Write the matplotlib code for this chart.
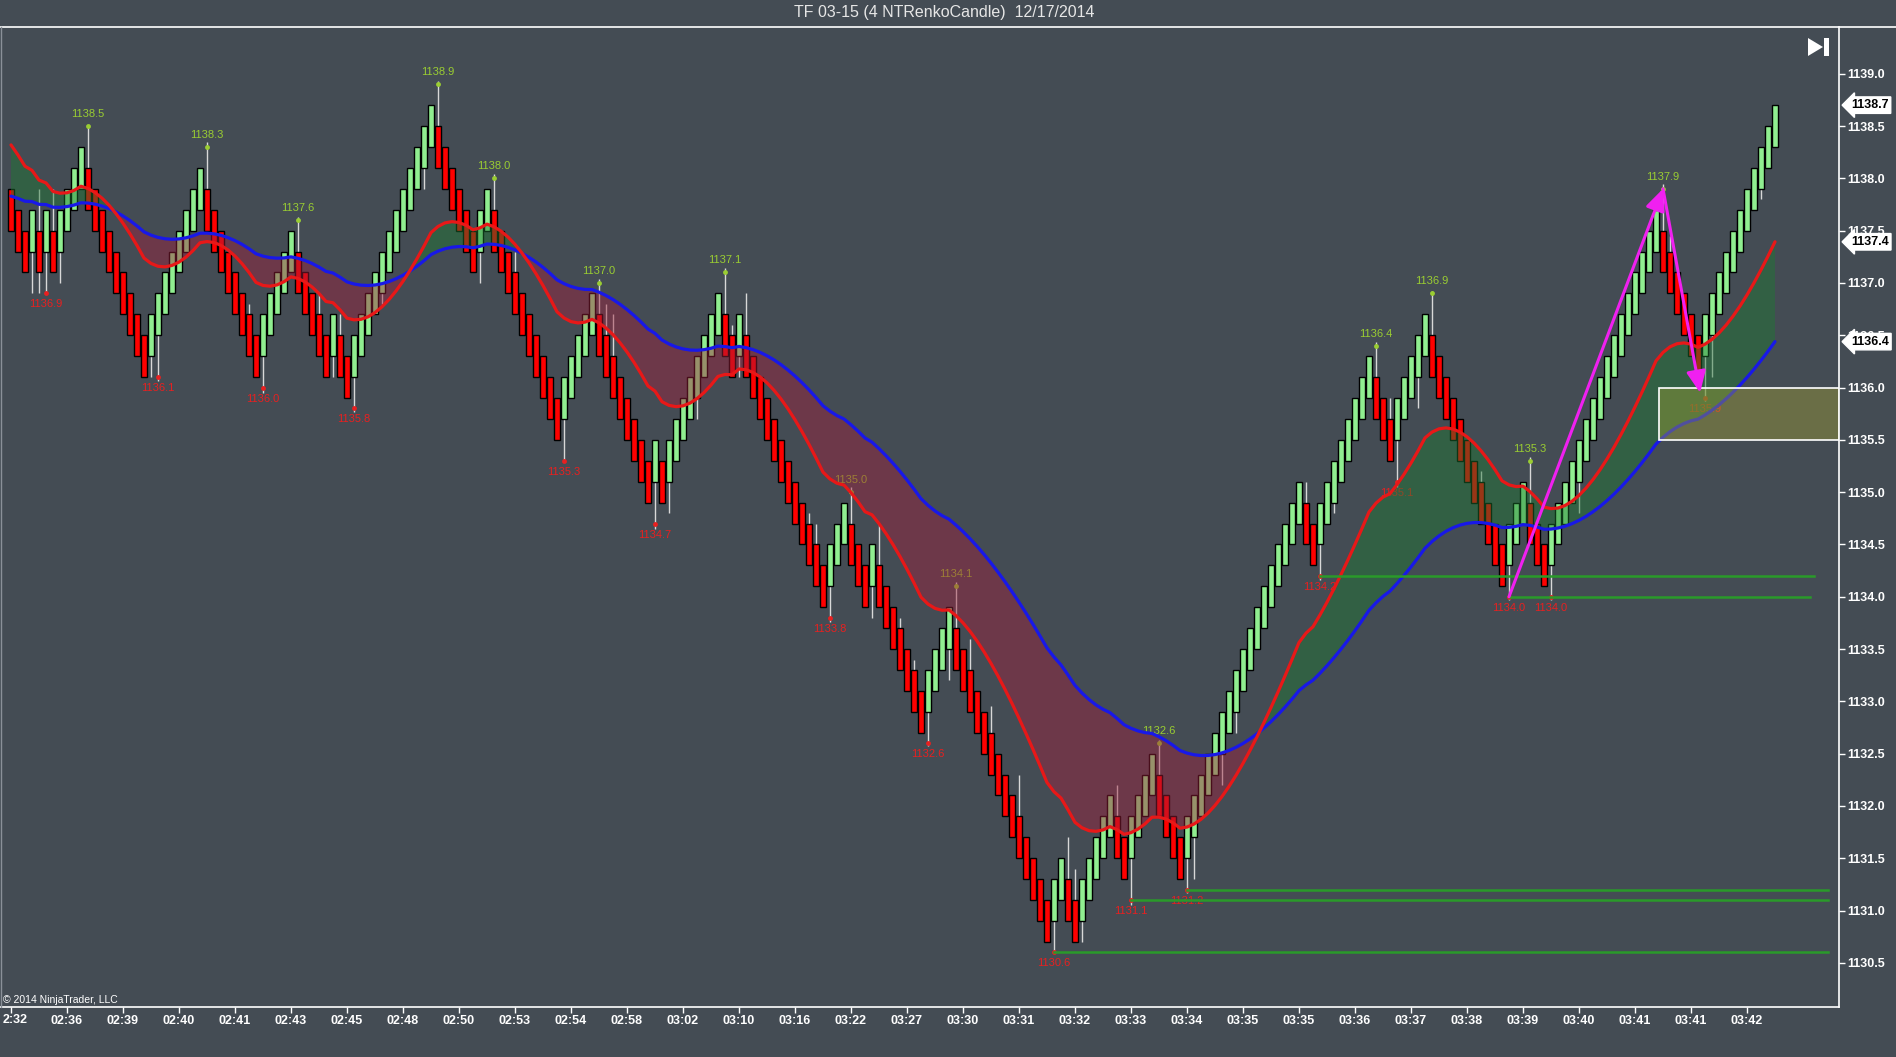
import matplotlib
matplotlib.use("Agg")
import matplotlib.pyplot as plt
import matplotlib.transforms as mtransforms
from matplotlib.patches import Polygon, Rectangle
from matplotlib.lines import Line2D
import numpy as np

plt.rcParams['font.family'] = ['Liberation Sans', 'DejaVu Sans']

W, H = 1896, 1057

# Renko candle closes (brick 0.4, each bar shifted 0.2 from the previous one)
closes = [
    1137.5, 1137.3, 1137.1, 1137.7, 1137.1, 1137.7, 1137.1, 1137.7, 1137.9, 1138.1,
    1138.3, 1137.7, 1137.5, 1137.3, 1137.1, 1136.9, 1136.7, 1136.5, 1136.3, 1136.1,
    1136.7, 1136.9, 1137.1, 1137.3, 1137.5, 1137.7, 1137.9, 1138.1, 1137.5, 1137.3,
    1137.1, 1136.9, 1136.7, 1136.5, 1136.3, 1136.1, 1136.7, 1136.9, 1137.1, 1137.3,
    1137.5, 1136.9, 1136.7, 1136.5, 1136.3, 1136.1, 1136.7, 1136.1, 1135.9, 1136.5,
    1136.7, 1136.9, 1137.1, 1137.3, 1137.5, 1137.7, 1137.9, 1138.1, 1138.3, 1138.5,
    1138.7, 1138.1, 1137.9, 1137.7, 1137.5, 1137.3, 1137.1, 1137.7, 1137.9, 1137.3,
    1137.1, 1136.9, 1136.7, 1136.5, 1136.3, 1136.1, 1135.9, 1135.7, 1135.5, 1136.1,
    1136.3, 1136.5, 1136.7, 1136.9, 1136.3, 1136.1, 1135.9, 1135.7, 1135.5, 1135.3,
    1135.1, 1134.9, 1135.5, 1134.9, 1135.5, 1135.7, 1135.9, 1136.1, 1136.3, 1136.5,
    1136.7, 1136.9, 1136.3, 1136.1, 1136.7, 1136.1, 1135.9, 1135.7, 1135.5, 1135.3,
    1135.1, 1134.9, 1134.7, 1134.5, 1134.3, 1134.1, 1133.9, 1134.5, 1134.7, 1134.9,
    1134.3, 1134.1, 1133.9, 1134.5, 1133.9, 1133.7, 1133.5, 1133.3, 1133.1, 1132.9,
    1132.7, 1133.3, 1133.5, 1133.7, 1133.9, 1133.3, 1133.1, 1132.9, 1132.7, 1132.5,
    1132.3, 1132.1, 1131.9, 1131.7, 1131.5, 1131.3, 1131.1, 1130.9, 1130.7, 1131.3,
    1131.5, 1130.9, 1130.7, 1131.3, 1131.5, 1131.7, 1131.9, 1132.1, 1131.5, 1131.3,
    1131.9, 1132.1, 1132.3, 1132.5, 1131.9, 1131.7, 1131.5, 1131.3, 1131.9, 1132.1,
    1132.3, 1132.5, 1132.7, 1132.9, 1133.1, 1133.3, 1133.5, 1133.7, 1133.9, 1134.1,
    1134.3, 1134.5, 1134.7, 1134.9, 1135.1, 1134.5, 1134.3, 1134.9, 1135.1, 1135.3,
    1135.5, 1135.7, 1135.9, 1136.1, 1136.3, 1135.7, 1135.5, 1135.3, 1135.9, 1136.1,
    1136.3, 1136.5, 1136.7, 1136.1, 1135.9, 1135.7, 1135.5, 1135.3, 1135.1, 1134.9,
    1134.7, 1134.5, 1134.3, 1134.1, 1134.7, 1134.9, 1135.1, 1134.5, 1134.3, 1134.1,
    1134.7, 1134.9, 1135.1, 1135.3, 1135.5, 1135.7, 1135.9, 1136.1, 1136.3, 1136.5,
    1136.7, 1136.9, 1137.1, 1137.3, 1137.5, 1137.7, 1137.1, 1136.9, 1136.7, 1136.5,
    1136.3, 1136.1, 1136.7, 1136.9, 1137.1, 1137.3, 1137.5, 1137.7, 1137.9, 1138.1,
    1138.3, 1138.5, 1138.7,
]
brick = 0.4
first_dir = -1   # first bar is a down brick

# wick extremes (bar index -> price), only where a wick shows
wick_high = {4: 1137.9, 6: 1137.9, 11: 1138.5, 28: 1138.35, 34: 1136.8, 41: 1137.63,
             44: 1136.9, 47: 1136.7, 61: 1138.93, 69: 1138.04, 72: 1137.3, 84: 1137.04,
             85: 1136.8, 86: 1136.7, 102: 1137.14, 103: 1136.6, 105: 1136.9, 114: 1134.8,
             115: 1134.7, 120: 1135.05, 124: 1134.7, 127: 1133.8, 129: 1133.4, 135: 1134.14,
             137: 1133.6, 140: 1132.96, 144: 1132.3, 151: 1131.7, 152: 1131.4, 158: 1132.2,
             164: 1132.63, 185: 1135.1, 195: 1136.44, 197: 1135.9, 203: 1136.92,
             210: 1135.2, 217: 1135.34, 236: 1137.95, 237: 1137.45}
wick_low = {3: 1136.9, 4: 1136.9, 5: 1136.9, 7: 1137.0, 20: 1136.1, 21: 1136.06,
            36: 1135.95, 46: 1136.1, 49: 1135.77, 53: 1136.8, 59: 1137.9, 67: 1137.0,
            79: 1135.3, 92: 1134.65, 94: 1134.8, 98: 1135.7, 104: 1136.1, 117: 1133.76,
            123: 1133.8, 131: 1132.57, 134: 1133.2, 149: 1130.6, 153: 1130.7, 160: 1131.05,
            168: 1131.17, 169: 1131.3, 173: 1132.2, 175: 1132.7, 187: 1134.16, 189: 1134.8,
            198: 1135.05, 201: 1135.8, 214: 1133.97, 220: 1133.97, 224: 1134.8,
            242: 1135.87, 243: 1136.1, 250: 1137.8}

# labelled swing points
swing_high_idx = [11, 28, 41, 61, 69, 84, 102, 120, 135, 164, 195, 203, 217, 236]
swing_high_val = [1138.5, 1138.3, 1137.6, 1138.9, 1138.0, 1137.0, 1137.1, 1135.0, 1134.1,
                  1132.6, 1136.4, 1136.9, 1135.3, 1137.9]
swing_low_idx = [5, 21, 36, 49, 79, 92, 117, 131, 149, 160, 168, 187, 198, 214, 220, 242]
swing_low_val = [1136.9, 1136.1, 1136.0, 1135.8, 1135.3, 1134.7, 1133.8, 1132.6, 1130.6,
                 1131.1, 1131.2, 1134.2, 1135.1, 1134.0, 1134.0, 1135.9]

# support lines from swing lows
support_start = [149, 160, 168, 187, 214]
support_level = [1130.6, 1131.1, 1131.2, 1134.2, 1134.0]
support_end = [259.6, 259.6, 259.6, 257.6, 257.0]

time_labels = ["02:32", "02:36", "02:39", "02:40", "02:41", "02:43", "02:45", "02:48",
               "02:50", "02:53", "02:54", "02:58", "03:02", "03:10", "03:16", "03:22",
               "03:27", "03:30", "03:31", "03:32", "03:33", "03:34", "03:35", "03:35",
               "03:36", "03:37", "03:38", "03:39", "03:40", "03:41", "03:41", "03:42"]
label_every = 8

# moving averages (EMA of closes): periods and their values at the first bar
red_len, blue_len = 20, 50
red_seed, blue_seed = 1138.32, 1137.83

# drawing objects
arrow_start = [(214, 1134.0), (236, 1137.9)]
arrow_end = [(236, 1137.9), (241.3, 1135.95)]
zone_left, zone_low, zone_high = 236, 1135.5, 1136.0

BG = '#444c54'


def ema(vals, length, seed):
    a = 2.0 / (length + 1)
    out = np.empty(len(vals))
    out[0] = seed
    for k in range(1, len(vals)):
        out[k] = out[k - 1] + a * (vals[k] - out[k - 1])
    return out


c = np.array(closes)
n = len(c)
x = np.arange(n)
dirs = np.concatenate([[first_dir], np.sign(np.diff(c))])
opens = c - brick * dirs
hi = np.maximum(opens, c)
lo = np.minimum(opens, c)
for k, v in wick_high.items():
    hi[k] = v
for k, v in wick_low.items():
    lo[k] = v

red = ema(c, red_len, red_seed)
blue = ema(c, blue_len, blue_seed)

fig = plt.figure(figsize=(W / 100, H / 100), dpi=100, facecolor=BG)
ax = fig.add_axes([0, 1 - 1007 / H, 1839 / W, (1007 - 27) / H])
ax.set_facecolor(BG)

xmin, xmax = -11 / 7, (1839 - 11) / 7
ax.set_xlim(xmin, xmax)
ax.set_ylim(1130.078, 1139.447)

# wicks + bricks
ax.vlines(x, lo, hi, color='#d8d8d8', lw=1, zorder=2)
up = dirs > 0
ax.bar(x[up], brick, bottom=opens[up], width=0.84, color='#90ee90',
       edgecolor='black', linewidth=1, zorder=3)
ax.bar(x[~up], brick, bottom=c[~up], width=0.84, color='#ff0000',
       edgecolor='black', linewidth=1, zorder=3)

# swing labels
ax.plot(swing_high_idx, swing_high_val, 'o', ms=3.5, color='#9acd32', mec='none', zorder=3.5)
ax.plot(swing_low_idx, swing_low_val, 'o', ms=3.5, color='#e82020', mec='none', zorder=3.5)
for i, v in zip(swing_high_idx, swing_high_val):
    ax.annotate(f"{v:.1f}", (i, v), xytext=(0, 12), textcoords='offset pixels',
                ha='center', va='center', fontsize=8, color='#9acd32', zorder=3.5)
for i, v in zip(swing_low_idx, swing_low_val):
    ax.annotate(f"{v:.1f}", (i, v), xytext=(0, -11), textcoords='offset pixels',
                ha='center', va='center', fontsize=8, color='#e82020', zorder=3.5)

# band between the averages
ax.fill_between(x, red, blue, where=red >= blue, interpolate=True,
                color='#1e7a32', alpha=0.45, lw=0, zorder=4)
ax.fill_between(x, red, blue, where=red < blue, interpolate=True,
                color='#a0203c', alpha=0.45, lw=0, zorder=4)
ax.plot(x, blue, color='#1818e8', lw=2.3, zorder=5, solid_capstyle='round')
ax.plot(x, red, color='#e81818', lw=2.3, zorder=5, solid_capstyle='round')

# support lines
for s, lvl, e in zip(support_start, support_level, support_end):
    ax.plot([s, e], [lvl, lvl], color='#2a9a2a', lw=1.8, zorder=5.5)

# zone box
ax.add_patch(Rectangle((zone_left - 0.5, zone_low), xmax - zone_left + 0.5, zone_high - zone_low,
                       facecolor=(165 / 255, 163 / 255, 49 / 255, 0.4),
                       edgecolor='white', lw=1.2, zorder=6))

# arrows
for s, e in zip(arrow_start, arrow_end):
    ax.annotate('', xy=e, xytext=s,
                arrowprops=dict(arrowstyle='-|>,head_length=1.0,head_width=0.45',
                                mutation_scale=13, color='#f020f0', lw=2.2,
                                shrinkA=0, shrinkB=0), zorder=7)

# axes styling
for side in ['top', 'left']:
    ax.spines[side].set_visible(False)
for side in ['right', 'bottom']:
    ax.spines[side].set_color('white')
    ax.spines[side].set_linewidth(1.2)
ax.yaxis.tick_right()
yt = np.arange(1130.5, 1139.01, 0.5)
ax.set_yticks(yt)
ax.set_yticklabels([f"{v:.1f}" for v in yt], fontweight='bold', fontsize=9, color='white')
ax.tick_params(axis='y', colors='white', length=4, width=1, pad=2)
ax.set_xticks(x[::label_every])
# first label runs off the left edge of the window, only "2:32" shows
ax.set_xticklabels([''] + time_labels[1:], fontweight='bold', fontsize=9, color='white')
ax.tick_params(axis='x', colors='white', length=4, width=1, pad=2)
fig.text(3 / W, 1 - 1020 / H, time_labels[0][1:], ha='left', va='center',
         fontsize=9, fontweight='bold', color='white')

# last value markers
trans = mtransforms.blended_transform_factory(ax.transAxes, ax.transData)
for val in [c[-1], red[-1], blue[-1]]:
    ax.text(1.0 + 12 / 1839, val, f"{val:.1f}", transform=trans, ha='left', va='center',
            fontsize=9, fontweight='bold', color='black', zorder=10, clip_on=False,
            bbox=dict(boxstyle='larrow,pad=0.18', fc='white', ec='white'))

# figure decorations
fig.add_artist(Line2D([0, 1], [1 - 27 / H, 1 - 27 / H], color='white', lw=1.2))
fig.add_artist(Line2D([0.5 / W, 0.5 / W], [1 - 1007 / H, 1 - 27 / H], color='#8a9098', lw=1))
fig.text(944 / W, 1 - 13 / H, "TF 03-15 (4 NTRenkoCandle)  12/17/2014", ha='center',
         va='center', fontsize=11.5, color='#e6e6e6')
fig.text(3 / W, 1 - 1000 / H, "\u00a9 2014 NinjaTrader, LLC", ha='left', va='center',
         fontsize=7.5, color='white')


def fp(px, py):
    return (px / W, 1 - py / H)


# "scroll to end" icon
fig.add_artist(Polygon([fp(1808, 38), fp(1808, 56), fp(1823, 47)], closed=True,
                       transform=fig.transFigure, fc='white', ec='none'))
fig.add_artist(Rectangle(fp(1824, 56), 5 / W, 18 / H, transform=fig.transFigure,
                         fc='white', ec='none'))

fig.savefig("out.png", dpi=100, facecolor=BG)
